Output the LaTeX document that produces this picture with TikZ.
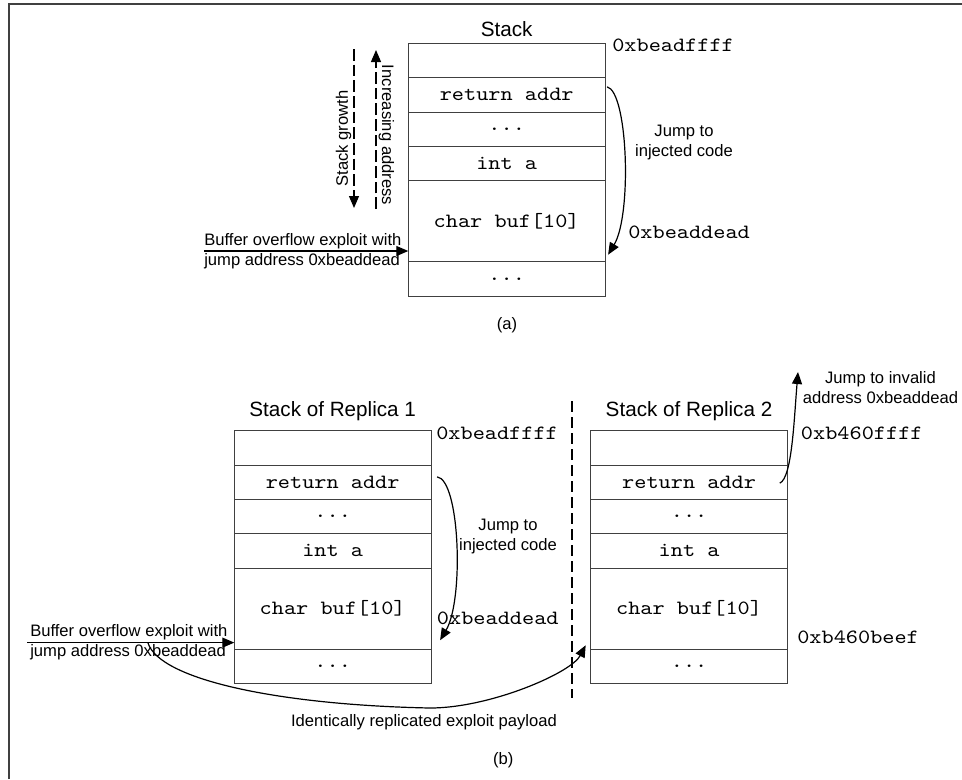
\documentclass[tikz,border=0pt]{standalone}
\usepackage{fontspec}
\setmainfont{Liberation Sans}
\newfontfamily\monofam{lmmono10-regular}[Extension=.otf, FakeStretch=1.143]
\usetikzlibrary{arrows.meta,calc}
\tikzset{
  lbl/.style={font=\fontsize{12.45}{15}\selectfont, inner sep=0pt},
  ttl/.style={font=\fontsize{15.5}{18}\selectfont, inner sep=0pt},
  addr/.style={font=\monofam\fontsize{15.2}{18}\selectfont, inner sep=0pt},
  cell/.style={draw=black!75, line width=0.75pt, minimum width=147.6pt,
    inner sep=0pt, outer sep=0pt, anchor=north west,
    font=\monofam\fontsize{15.2}{18}\selectfont},
  conn/.style={line width=0.9pt, -{Triangle[length=9pt,width=7.5pt]}},
  dashA/.style={dash pattern=on 8.75pt off 3pt},
  dashB/.style={dash pattern=on 8pt off 4pt, line width=0.9pt},
  frameline/.style={line width=1.5pt, draw=black!75},
}
\newcommand\stackcol[3]{%
  \node[cell, minimum height=25.95pt] (#11) at (#2,#3) {};
  \node[cell, minimum height=25.8pt] (#12) at (#11.south west) {return addr};
  \node[cell, minimum height=25.5pt] (#13) at (#12.south west) {...};
  \node[cell, minimum height=25.875pt] (#14) at (#13.south west) {int a};
  \node[cell, minimum height=60.9pt] (#15) at (#14.south west) {char buf[10]};
  \node[cell, minimum height=25.725pt] (#16) at (#15.south west) {...};
}
\begin{document}
\begin{tikzpicture}[x=0.75pt,y=-0.75pt]
\useasboundingbox (0,0) rectangle (962,779);
\draw[frameline] (9,779) -- (9,4) -- (962,4);

% ---------- (a) ----------
\stackcol{a}{408.3}{43}
\node[ttl, anchor=base] (atitle) at (506.7,36) {Stack};
\node[addr, anchor=base west] (atop) at (612,51) {0xbeadffff};
\node[addr, anchor=base west] (adead) at (628,238) {0xbeaddead};
\node[lbl, align=center, anchor=north] (ajump) at (684,125) {Jump to\\injected code};
\node[lbl, align=left, anchor=north west] (abo) at (204,233) {Buffer overflow exploit with\\jump address 0xbeaddead};
\draw[conn] (abo.west) -- (abo.west -| a5.west);
\draw[conn] ($(a2.east)+(2,-8)$) .. controls (628,92) and (632,215) .. ($(a5.south east)+(3,-7)$);

\coordinate (sg1) at (354,49);
\coordinate (sg2) at (354,208);
\draw[conn, dashA] (sg1) -- (sg2);
\node[lbl, rotate=90] (sgl) at (343.5,138.5) {Stack growth};
\coordinate (ia1) at (376,209);
\coordinate (ia2) at (376,50);
\draw[conn, dashA] (ia1) -- (ia2);
\node[lbl, rotate=-90] (ial) at (386.5,135) {Increasing address};
\node[lbl, anchor=base] (acap) at (507,329) {(a)};

% ---------- (b) ----------
\stackcol{s}{234.3}{430.5}
\stackcol{t}{590.7}{430.5}
\node[ttl, anchor=base] (stitle) at (332.7,416.7) {Stack of Replica 1};
\node[ttl, anchor=base] (ttitle) at (689,416.7) {Stack of Replica 2};
\node[addr, anchor=base west] (stop) at (436,439) {0xbeadffff};
\node[addr, anchor=base west] (sdead) at (436.7,624.5) {0xbeaddead};
\node[addr, anchor=base west] (ttop) at (800.7,439) {0xb460ffff};
\node[addr, anchor=base west] (tbeef) at (797,643) {0xb460beef};
\node[lbl, align=center, anchor=north] (sjump) at (508,519) {Jump to\\injected code};
\node[lbl, align=center, anchor=north] (tjump) at (880.5,370.7) {Jump to invalid\\address 0xbeaddead};
\node[lbl, align=left, anchor=north west] (sbo) at (30,624.6) {Buffer overflow exploit with\\jump address 0xbeaddead};
\draw[conn] ($(sbo.west)+(-3,0)$) -- (sbo.west -| s5.west);
\draw[conn] ($(s2.east)+(6,-5.5)$) .. controls (460,480) and (464,600) .. ($(s5.south east)+(9,-9)$);
\coordinate (inv) at (798,372);
\draw[conn] ($(t2.east)+(-7.7,0.8)$) .. controls (792,478) and (794,420) .. (inv);
\coordinate (pl) at (148,643);
\coordinate (plmid) at (430,708);
\draw[conn] (pl) .. controls (160,680) and (280,705) .. (plmid) .. controls (490,708) and (571,673) .. ($(t5.south west)+(-5,-4)$);
\node[lbl, anchor=base] (plabel) at (424,726) {Identically replicated exploit payload};
\coordinate (dv1) at (572,401);
\coordinate (dv2) at (572,698);
\draw[dashB] (dv1) -- (dv2);
\node[lbl, anchor=base] (bcap) at (503.3,764) {(b)};
\end{tikzpicture}
\end{document}
